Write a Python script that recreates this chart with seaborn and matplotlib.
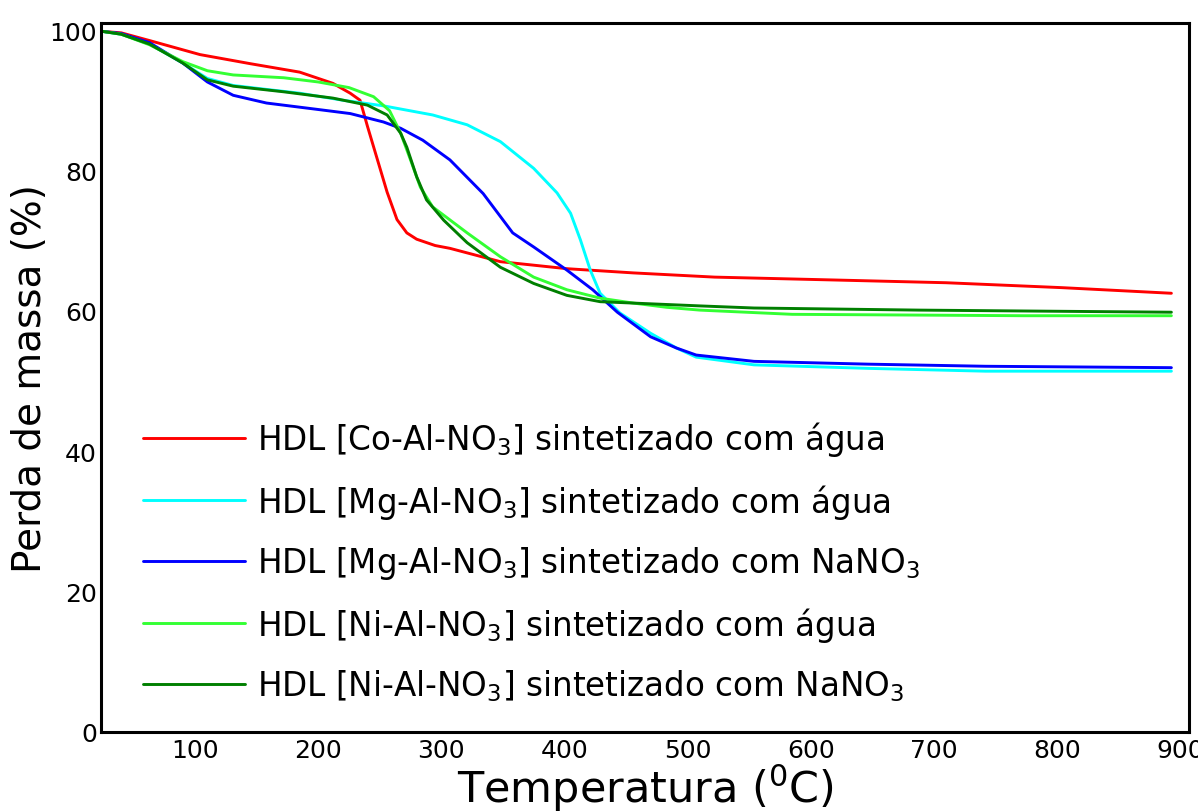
import matplotlib
matplotlib.use("Agg")
import matplotlib.pyplot as plt
import seaborn as sns
import pandas as pd

# ---- data ----
series_names = [
    "HDL [Co-Al-NO$_3$] sintetizado com água",
    "HDL [Mg-Al-NO$_3$] sintetizado com água",
    "HDL [Mg-Al-NO$_3$] sintetizado com NaNO$_3$",
    "HDL [Ni-Al-NO$_3$] sintetizado com água",
    "HDL [Ni-Al-NO$_3$] sintetizado com NaNO$_3$",
]
series_colors = ["#ff0000", "#00ffff", "#0000ff", "#33ff33", "#007f00"]

co_agua_x = [25, 40, 63, 104, 145, 185, 212, 226, 234, 240, 248, 256, 264, 272, 280,
             295, 307, 348, 402, 456, 522, 617, 710, 804, 893]
co_agua_y = [99.8, 99.6, 98.5, 96.5, 95.2, 94.0, 92.4, 91.0, 90.0, 86.3, 81.6, 76.9, 73.0,
             71.1, 70.2, 69.3, 68.9, 67.0, 66.0, 65.4, 64.8, 64.4, 64.0, 63.3, 62.5]

mg_agua_x = [25, 40, 63, 90, 110, 131, 160, 185, 220, 253, 293, 321, 348, 375, 394, 405,
             413, 421, 429, 445, 470, 491, 507, 554, 647, 742, 893]
mg_agua_y = [99.8, 99.4, 98.0, 95.3, 93.1, 92.1, 91.5, 91.0, 90.0, 89.2, 87.9, 86.5, 84.1,
             80.3, 76.8, 73.9, 70.1, 65.8, 62.5, 59.7, 56.8, 54.7, 53.4, 52.3, 51.8, 51.4, 51.4]

mg_nano3_x = [25, 40, 63, 90, 110, 131, 158, 199, 226, 253, 267, 285, 307, 334, 358, 375,
              402, 423, 443, 470, 491, 507, 554, 647, 742, 893]
mg_nano3_y = [99.8, 99.5, 98.2, 95.3, 92.6, 90.7, 89.6, 88.7, 88.1, 86.9, 86.0, 84.3, 81.5,
              76.7, 71.1, 69.1, 65.8, 63.0, 59.8, 56.3, 54.7, 53.7, 52.8, 52.4, 52.1, 51.9]

ni_agua_x = [25, 40, 63, 90, 110, 131, 172, 200, 225, 245, 258, 267, 275, 283, 293, 321,
             348, 375, 402, 429, 456, 483, 510, 585, 773, 893]
ni_agua_y = [99.8, 99.4, 97.9, 95.5, 94.2, 93.6, 93.2, 92.6, 91.8, 90.5, 88.5, 85.3, 81.5,
             77.6, 74.8, 71.1, 67.7, 64.8, 63.0, 61.8, 61.1, 60.5, 60.1, 59.5, 59.3, 59.3]

ni_nano3_x = [25, 40, 63, 90, 110, 131, 172, 212, 240, 256, 267, 272, 280, 288, 302, 321,
              348, 375, 402, 429, 456, 510, 554, 688, 893]
ni_nano3_y = [99.8, 99.4, 98.0, 95.3, 92.9, 92.0, 91.2, 90.3, 89.3, 87.9, 85.3, 83.3, 79.1,
              75.8, 72.9, 69.7, 66.2, 63.9, 62.2, 61.3, 61.1, 60.7, 60.4, 60.1, 59.8]

x_ticks = [100, 200, 300, 400, 500, 600, 700, 800, 900]
y_ticks = [0, 20, 40, 60, 80, 100]

xs = [co_agua_x, mg_agua_x, mg_nano3_x, ni_agua_x, ni_nano3_x]
ys = [co_agua_y, mg_agua_y, mg_nano3_y, ni_agua_y, ni_nano3_y]
frames = []
for name, x, y in zip(series_names, xs, ys):
    frames.append(pd.DataFrame({"T": x, "m": y, "serie": name}))
df = pd.concat(frames, ignore_index=True)

sns.set_style("white")
plt.rcParams["font.family"] = ["DejaVu Sans"]
plt.rcParams["text.color"] = "black"
plt.rcParams["axes.labelcolor"] = "black"
plt.rcParams["xtick.color"] = "black"
plt.rcParams["ytick.color"] = "black"

fig = plt.figure(figsize=(11.98, 8.12), dpi=100)
ax = fig.add_axes([101 / 1198, 1 - 733 / 812, 1088 / 1198, 709 / 812])

sns.lineplot(data=df, x="T", y="m", hue="serie", hue_order=series_names,
             palette=dict(zip(series_names, series_colors)), sort=False,
             estimator=None, linewidth=2.1, ax=ax)

ax.set_xlim(23.6, 907.3)
ax.set_ylim(0, 101)
ax.set_xticks(x_ticks)
ax.set_yticks(y_ticks)
ax.tick_params(axis="both", length=0, labelsize=18, colors="black")
ax.tick_params(axis="x", pad=4)
ax.tick_params(axis="y", pad=3)
for s in ax.spines.values():
    s.set_color("black")
    s.set_linewidth(2.2)

ax.set_xlabel("Temperatura ($^0$C)", fontsize=31, labelpad=0)
ax.set_ylabel("Perda de massa (%)", fontsize=28, labelpad=0)

leg = ax.legend(loc="center left", bbox_to_anchor=(0.027, 0.241), frameon=False,
                fontsize=23.5, handlelength=3.1, handletextpad=0.37, labelspacing=0.72,
                borderaxespad=0)
for line in leg.get_lines():
    line.set_linewidth(2.1)
for t in leg.get_texts():
    t.set_color("black")

fig.savefig("out.png", dpi=100)
